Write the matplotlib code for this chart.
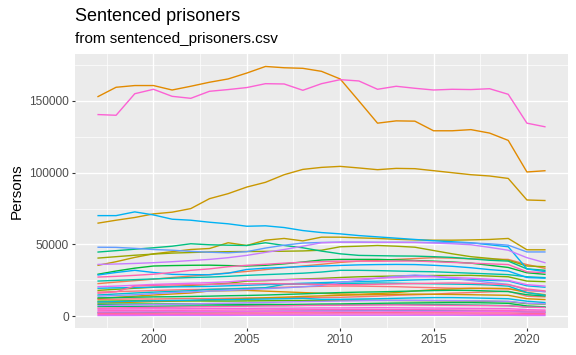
import numpy as np
import matplotlib
matplotlib.use("Agg")
import matplotlib.pyplot as plt
from matplotlib.ticker import FixedLocator, FuncFormatter

plt.rcParams['font.family'] = ['Liberation Sans', 'DejaVu Sans']

years = list(range(1997, 2022))

# values in thousands of persons (1997..2021)
big_orange = [152.8, 159.5, 160.7, 160.7, 157.6, 160.2, 163.0, 165.3, 169.4, 174.0, 173.1, 172.7, 170.6,
              165.3, 150.0, 134.5, 136.1, 135.9, 129.2, 129.2, 130.0, 127.6, 122.5, 100.5, 101.4]
big_pink = [140.5, 140.0, 155.0, 158.1, 153.2, 151.8, 156.7, 157.9, 159.3, 162.0, 161.8, 157.4, 162.0,
            164.8, 163.9, 158.1, 160.2, 158.8, 157.6, 158.1, 157.9, 158.5, 154.6, 134.5, 131.9]
big_gold = [64.8, 66.9, 68.8, 71.3, 72.5, 75.0, 81.9, 85.4, 90.0, 93.3, 98.6, 102.3, 103.7,
            104.4, 103.3, 102.1, 103.0, 102.8, 101.4, 100.0, 98.6, 97.7, 96.0, 81.0, 80.6]
big_blue = [70.1, 70.1, 72.7, 70.6, 67.6, 66.9, 65.5, 64.4, 62.7, 63.0, 61.8, 59.7, 58.3,
            57.4, 56.2, 55.3, 54.4, 53.5, 52.6, 51.9, 51.2, 49.8, 48.4, 33.0, 31.0]
periwinkle = [48.1, 48.0, 47.3, 46.5, 46.0, 45.2, 44.6, 44.2, 45.0, 47.5, 49.5, 51.0, 51.4,
              51.6, 51.6, 51.5, 51.5, 51.5, 51.4, 51.2, 51.0, 50.5, 49.5, 44.8, 44.8]
gold2 = [35.4, 38.0, 41.0, 43.5, 45.0, 46.5, 47.2, 51.2, 49.3, 53.0, 54.2, 52.5, 55.1,
         55.1, 54.6, 54.2, 53.6, 53.2, 53.0, 53.0, 53.2, 53.5, 54.2, 46.3, 46.3]
teal_green = [44.7, 45.7, 46.7, 47.7, 48.8, 50.5, 49.8, 49.5, 49.3, 51.2, 49.3, 47.7, 45.4,
              43.5, 42.4, 42.2, 42.0, 41.9, 41.5, 41.0, 40.0, 39.0, 38.4, 33.0, 32.0]
olive = [40.5, 41.5, 42.5, 43.3, 44.0, 44.4, 44.8, 45.0, 45.1, 45.2, 45.3, 45.5, 46.0,
         48.4, 48.8, 49.3, 48.8, 48.1, 45.8, 43.5, 41.5, 40.3, 39.0, 35.0, 34.5]
purple = [36.1, 36.4, 36.8, 37.3, 38.0, 38.8, 39.6, 40.8, 42.4, 44.5, 46.5, 48.8, 51.2,
          51.6, 51.6, 51.5, 51.5, 51.4, 51.0, 50.5, 49.8, 48.0, 46.0, 40.8, 37.2]
green = [29.2, 31.5, 33.5, 35.0, 35.3, 35.5, 35.6, 35.3, 35.0, 35.5, 36.5, 37.8, 39.2,
         39.6, 39.6, 39.6, 39.3, 38.8, 38.4, 37.8, 37.0, 35.5, 34.0, 30.3, 29.2]
blue2 = [28.7, 30.5, 32.0, 30.5, 29.2, 29.0, 28.9, 30.0, 32.6, 33.5, 34.0, 34.6, 35.0,
         35.4, 35.8, 36.0, 36.1, 36.0, 35.5, 34.8, 33.8, 32.5, 31.5, 27.0, 26.5]
pink2 = [27.3, 27.8, 28.5, 29.3, 30.5, 32.0, 33.0, 34.5, 35.5, 36.2, 37.0, 37.6, 38.0,
         38.4, 38.4, 38.3, 38.4, 38.5, 38.0, 37.5, 37.0, 36.5, 36.0, 31.0, 30.3]
teal = [24.5, 25.0, 25.5, 26.0, 26.5, 27.0, 27.3, 27.8, 28.5, 29.0, 29.5, 30.0, 30.8,
        32.0, 32.0, 31.8, 31.5, 31.2, 31.0, 30.5, 30.0, 29.5, 29.0, 27.5, 26.9]
orange_red = [22.7, 23.8, 24.8, 25.8, 27.0, 28.0, 29.0, 30.2, 31.2, 32.5, 33.8, 35.0, 36.2,
              37.5, 38.4, 39.0, 39.6, 40.2, 40.8, 40.5, 40.0, 39.8, 39.6, 36.0, 33.3]
magenta = [20.6, 21.0, 21.6, 22.2, 22.6, 23.0, 23.4, 24.0, 25.0, 25.2, 25.4, 25.6, 25.7,
           25.8, 26.0, 26.5, 27.0, 27.5, 27.5, 27.0, 26.5, 25.8, 25.0, 22.0, 21.0]
olive_green = [18.0, 18.8, 19.5, 20.2, 20.8, 21.5, 22.2, 23.0, 24.5, 24.8, 25.5, 26.0, 26.4,
               27.0, 27.5, 27.8, 28.0, 28.2, 28.4, 28.4, 28.5, 28.0, 27.5, 24.5, 24.1]
pink3 = [16.0, 17.0, 21.0, 21.5, 21.8, 22.0, 22.2, 22.5, 22.6, 22.8, 22.6, 22.4, 22.2,
         22.0, 22.0, 22.3, 22.5, 22.8, 23.0, 23.2, 23.0, 22.5, 22.0, 19.0, 17.6]
teal2 = [14.8, 15.5, 16.2, 16.8, 17.3, 17.8, 18.7, 19.0, 19.4, 19.9, 22.2, 22.4, 22.6,
         22.8, 23.0, 23.2, 23.0, 22.8, 22.6, 22.4, 22.2, 21.8, 21.0, 16.5, 14.6]
orange2 = [12.3, 13.2, 14.0, 14.8, 15.5, 16.2, 17.6, 17.8, 18.0, 17.5, 17.0, 16.5, 16.0,
           15.5, 15.3, 15.8, 16.5, 17.6, 18.5, 19.0, 19.5, 19.5, 19.3, 16.5, 15.0]
salmon = [11.8, 11.9, 12.1, 12.0, 12.2, 12.4, 12.3, 12.5, 12.7, 12.6, 12.8, 13.0, 13.1,
          13.2, 13.6, 14.0, 14.6, 15.0, 15.4, 16.1, 16.5, 17.0, 17.4, 14.0, 13.5]
lavender = [14.0, 14.5, 15.0, 15.8, 16.5, 17.0, 17.5, 18.0, 18.6, 19.2, 19.8, 20.5, 21.5,
            23.5, 25.0, 26.5, 27.8, 28.7, 28.0, 26.5, 25.0, 23.5, 22.2, 18.5, 17.0]
blue3 = [9.9, 10.2, 10.5, 10.8, 11.0, 11.2, 11.5, 11.6, 11.8, 12.0, 12.2, 12.5, 11.8,
         11.8, 12.0, 12.2, 12.5, 12.8, 13.0, 13.0, 12.8, 12.5, 12.2, 10.5, 9.5]
lime = [10.5, 10.6, 10.8, 10.9, 10.8, 10.7, 10.6, 10.6, 10.7, 10.8, 10.9, 11.0, 11.1,
        11.2, 11.2, 11.1, 11.0, 10.9, 10.8, 10.7, 10.6, 10.4, 10.2, 8.8, 8.5]
green2 = [8.3, 8.4, 8.5, 8.5, 8.6, 8.6, 8.5, 8.4, 8.3, 8.3, 8.2, 8.3, 8.5,
          8.6, 8.8, 9.0, 9.2, 9.3, 9.4, 9.5, 9.5, 9.3, 9.0, 7.2, 6.5]
green3 = [6.7, 6.8, 6.9, 7.0, 7.1, 7.2, 7.2, 7.3, 7.4, 7.5, 7.5, 7.6, 7.8,
          8.0, 8.1, 8.2, 8.3, 8.2, 8.1, 8.0, 7.8, 7.6, 7.4, 6.5, 6.3]
red2 = [16.8, 17.2, 17.5, 17.9, 18.3, 18.6, 18.8, 19.2, 19.5, 19.9, 20.2, 20.6, 20.9,
        21.1, 21.0, 20.8, 20.6, 20.2, 19.9, 19.6, 19.4, 19.2, 19.0, 17.8, 17.2]
mustard = [9.2, 9.5, 9.8, 10.2, 10.5, 10.9, 11.3, 11.8, 12.4, 12.9, 13.3, 13.8, 14.2,
           14.6, 14.9, 15.1, 15.3, 15.4, 15.3, 15.2, 15.0, 14.8, 14.6, 12.2, 11.6]
emerald = [12.8, 13.0, 13.3, 13.5, 13.6, 13.8, 14.0, 14.3, 14.5, 14.8, 15.2, 15.6, 16.1,
           16.5, 16.8, 17.0, 17.3, 17.6, 17.9, 18.1, 18.0, 17.6, 17.2, 15.0, 14.1]
sky = [19.5, 19.8, 20.0, 20.3, 20.5, 20.6, 20.8, 21.2, 21.6, 22.0, 22.5, 23.0, 23.4,
       23.8, 24.2, 24.5, 24.9, 25.3, 25.6, 25.8, 25.5, 25.0, 24.6, 21.2, 20.2]
violet = [7.5, 7.7, 7.9, 8.1, 8.4, 8.6, 8.9, 9.1, 9.4, 9.6, 9.9, 10.2, 10.4,
          10.6, 10.8, 11.0, 11.1, 11.1, 11.0, 10.9, 10.8, 10.6, 10.4, 9.1, 8.7]
rose = [5.6, 5.8, 6.0, 6.2, 6.3, 6.5, 6.7, 6.8, 7.0, 7.2, 7.3, 7.5, 7.6,
        7.7, 7.8, 7.9, 7.9, 7.8, 7.7, 7.6, 7.5, 7.4, 7.3, 6.4, 6.1]
small1 = [4.9, 5.0, 5.1, 5.2, 5.2, 5.3, 5.4, 5.4, 5.5, 5.6, 5.6, 5.7, 5.8,
          5.8, 5.9, 6.0, 5.9, 5.8, 5.7, 5.6, 5.5, 5.4, 5.3, 4.6, 4.3]
small2 = [3.8, 3.9, 4.0, 4.0, 4.1, 4.2, 4.2, 4.3, 4.4, 4.4, 4.5, 4.5, 4.6,
          4.6, 4.7, 4.7, 4.6, 4.6, 4.5, 4.4, 4.3, 4.2, 4.1, 3.7, 3.6]
small3 = [2.9, 3.0, 3.0, 3.1, 3.1, 3.2, 3.2, 3.3, 3.3, 3.4, 3.4, 3.5, 3.5,
          3.6, 3.6, 3.6, 3.5, 3.5, 3.4, 3.4, 3.3, 3.3, 3.2, 2.9, 2.8]
small4 = [2.0, 2.0, 2.1, 2.1, 2.2, 2.2, 2.2, 2.3, 2.3, 2.3, 2.4, 2.4, 2.4,
          2.5, 2.5, 2.5, 2.5, 2.4, 2.4, 2.4, 2.3, 2.3, 2.3, 2.0, 1.9]
small5 = [1.2, 1.2, 1.3, 1.3, 1.3, 1.4, 1.4, 1.4, 1.5, 1.5, 1.5, 1.5, 1.6,
          1.6, 1.6, 1.6, 1.6, 1.5, 1.5, 1.5, 1.5, 1.4, 1.4, 1.2, 1.2]
small6 = [0.5, 0.5, 0.5, 0.6, 0.6, 0.6, 0.6, 0.6, 0.7, 0.7, 0.7, 0.7, 0.7,
          0.7, 0.7, 0.7, 0.7, 0.7, 0.7, 0.7, 0.6, 0.6, 0.6, 0.5, 0.5]
cyan = [2.5, 2.6, 2.7, 2.8, 2.9, 3.0, 3.1, 3.2, 3.3, 3.4, 3.5, 3.6, 3.7,
        3.8, 3.9, 4.0, 4.0, 4.0, 3.9, 3.9, 3.8, 3.7, 3.6, 3.0, 2.8]

series = [salmon, red2, orange_red, big_orange, orange2, mustard, big_gold, gold2, olive, olive_green,
          lime, green, green2, emerald, green3, teal_green, teal, teal2, cyan, sky, blue3, big_blue,
          blue2, periwinkle, lavender, violet, purple, magenta, small6, small3, small1, big_pink,
          small5, pink2, small2, rose, pink3, small4]
# hue angle of each series (ggplot-like hcl colours)
hues = [15, 10, 25, 42, 50, 58, 62, 72, 92, 105,
        118, 135, 140, 145, 150, 160, 180, 200, 205, 222, 215, 228,
        235, 255, 265, 275, 285, 300, 290, 310, 320, 325,
        328, 345, 335, 340, 350, 355]


def hcl(h, c=100, l=65):
    hr = np.deg2rad(h)
    u, v = c * np.cos(hr), c * np.sin(hr)
    xn, yn, zn = 0.95047, 1.0, 1.08883
    d = xn + 15 * yn + 3 * zn
    un, vn = 4 * xn / d, 9 * yn / d
    Y = ((l + 16) / 116) ** 3
    up = u / (13 * l) + un
    vp = v / (13 * l) + vn
    X = Y * 9 * up / (4 * vp)
    Z = Y * (12 - 3 * up - 20 * vp) / (4 * vp)
    M = np.array([[3.2406, -1.5372, -0.4986],
                  [-0.9689, 1.8758, 0.0415],
                  [0.0557, -0.2040, 1.0570]])
    rgb = M @ np.array([X, Y, Z])
    rgb = np.clip(rgb, 0, None)
    rgb = np.where(rgb <= 0.0031308, 12.92 * rgb, 1.055 * rgb ** (1 / 2.4) - 0.055)
    return tuple(np.clip(rgb, 0, 1))


fig = plt.figure(figsize=(5.76, 3.55), dpi=100)
ax = fig.add_axes([75 / 576, 1 - 328 / 355, 493 / 576, 274 / 355])
ax.set_facecolor('#EBEBEB')

for vals, h in zip(series, hues):
    ax.plot(years, np.array(vals) * 1000, color=hcl(h), lw=1.0, solid_capstyle='butt')

ax.margins(x=0.05, y=0.05)
ax.set_xticks([2000, 2005, 2010, 2015, 2020])
ax.set_yticks([0, 50000, 100000, 150000])
ax.xaxis.set_minor_locator(FixedLocator([1997.5, 2002.5, 2007.5, 2012.5, 2017.5, 2022.5]))
ax.yaxis.set_minor_locator(FixedLocator([25000, 75000, 125000, 175000]))
ax.yaxis.set_major_formatter(FuncFormatter(lambda v, p: '%d' % v))
ax.grid(which='major', color='white', lw=1.0)
ax.grid(which='minor', color='white', lw=0.5)
ax.set_axisbelow(True)
for s in ax.spines.values():
    s.set_visible(False)
ax.tick_params(which='major', length=2.5, width=0.8, color='#333333', labelcolor='#4D4D4D',
               labelsize=8.6, pad=2)
ax.tick_params(which='minor', length=0)

ax.set_ylabel('Persons', fontsize=11, color='black', labelpad=4)

fig.text(75 / 576, 1 - 21 / 355, 'Sentenced prisoners', fontsize=13, va='baseline', ha='left')
fig.text(75 / 576, 1 - 43 / 355, 'from sentenced_prisoners.csv', fontsize=11, va='baseline', ha='left')

fig.savefig('out.png', dpi=100)
